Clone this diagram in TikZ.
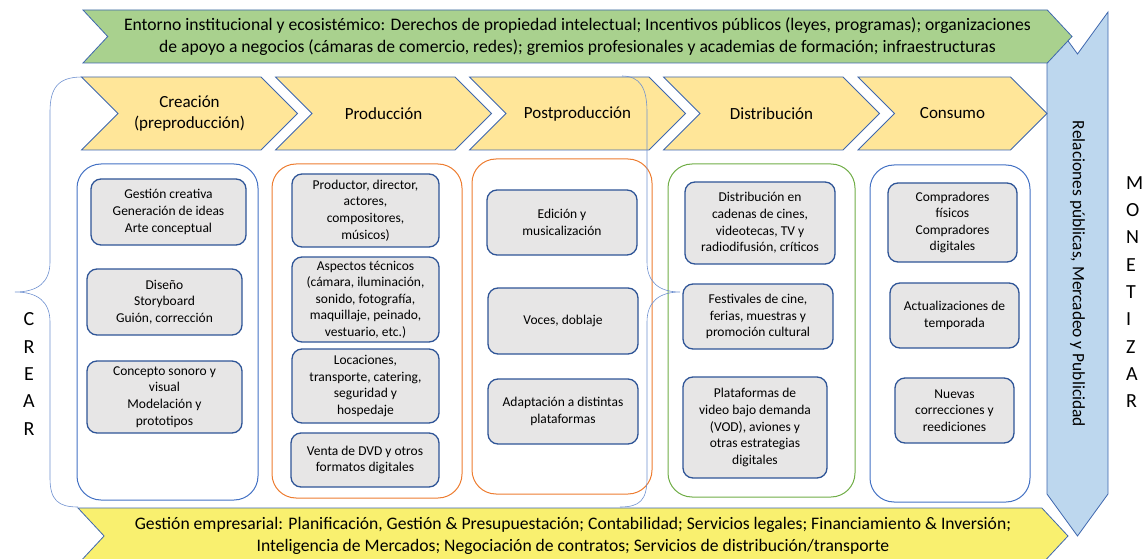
\documentclass[tikz,border=0pt]{standalone}
\usepackage{fontspec}
\setmainfont{Carlito}
\usetikzlibrary{shapes.symbols}

\definecolor{edgeblue}{HTML}{3E67AE}
\definecolor{itemblue}{HTML}{2F5597}
\definecolor{itemgray}{HTML}{E7E6E6}
\definecolor{entornogreen}{HTML}{A9D18E}
\definecolor{stagegold}{HTML}{FFE699}
\definecolor{gestionyellow}{HTML}{F9F06F}
\definecolor{relblue}{HTML}{BDD7EE}
\definecolor{colblue}{HTML}{4472C4}
\definecolor{colorange}{HTML}{ED7D31}
\definecolor{colgreen}{HTML}{70AD47}
\definecolor{braceblue}{HTML}{6F91D0}

\begin{document}
\begin{tikzpicture}[x=1pt, y=-1pt]
	\tikzstyle{every node} = [inner sep=0pt, outer sep=0pt, text=black]
	\tikzstyle{band} = [signal, signal from=west, signal to=east, draw=edgeblue, line width=0.8pt, align=center, font=\fontsize{17.6}{22}\selectfont]
	\tikzstyle{stage} = [signal, signal from=west, signal to=east, signal pointer angle=90, draw=edgeblue, fill=stagegold, line width=0.8pt, minimum height=73pt, minimum width=216pt, align=center, font=\fontsize{17}{21.5}\selectfont]
	\tikzstyle{column} = [rectangle, rounded corners=24pt, line width=1pt]
	\tikzstyle{item} = [rectangle, rounded corners=10pt, draw=itemblue, fill=itemgray, line width=1.3pt, align=center, font=\fontsize{13.5}{16.6}\selectfont]
	\tikzstyle{letters} = [align=center, font=\fontsize{20}{27.3}\selectfont]
	\tikzstyle{brace} = [draw=braceblue, line width=0.6pt]
	\useasboundingbox (0,0) rectangle (1144,559);

	% bands round the chain
	\node [band, fill=relblue, rotate=-90, signal pointer angle=72, minimum width=524pt, minimum height=61pt, font=\fontsize{17.4}{21}\selectfont] (Relaciones) at (1077.5, 274) {Relaciones públicas, Mercadeo y Publicidad};
	\node [band, fill=entornogreen, signal pointer angle=94, minimum width=989pt, minimum height=53pt] (Entorno) at (577.5, 36.5) {Entorno institucional y ecosistémico: Derechos de propiedad intelectual; Incentivos públicos (leyes, programas); organizaciones\\de apoyo a negocios (cámaras de comercio, redes); gremios profesionales y academias de formación; infraestructuras};
	\node [band, fill=gestionyellow, signal pointer angle=94, minimum width=990pt, minimum height=56pt] (Gestion) at (573, 536) {Gestión empresarial: Planificación, Gestión \& Presupuestación; Contabilidad; Servicios legales; Financiamiento \& Inversión;\\Inteligencia de Mercados; Negociación de contratos; Servicios de distribución/transporte};

	% stages
	\node [stage] (Creacion) at (189.5, 113.5) {Creación\\(preproducción)};
	\node [stage] (Produccion) at (383.5, 113.5) {Producción};
	\node [stage] (Postproduccion) at (577.5, 113.5) {Postproducción};
	\node [stage] (Distribucion) at (771.5, 113.5) {Distribución};
	\node [stage, minimum width=189pt] (Consumo) at (952.5, 113.5) {Consumo};

	% columns
	\node [column, draw=colblue, minimum width=181pt, minimum height=336pt] (colCreacion) at (167.5, 332) {};
	\node [column, draw=colorange, minimum width=190pt, minimum height=334pt] (colProduccion) at (367, 331) {};
	\node [column, draw=colorange, minimum width=180pt, minimum height=335pt] (colPostproduccion) at (562, 326.5) {};
	\node [column, draw=colgreen, minimum width=187pt, minimum height=333pt] (colDistribucion) at (761.5, 330.5) {};
	\node [column, draw=colblue, minimum width=160pt, minimum height=337pt] (colConsumo) at (950, 333.5) {};

	% items
	\node [item, minimum width=155pt, minimum height=66pt] (gestionCreativa) at (168.5, 212) {Gestión creativa\\Generación de ideas\\Arte conceptual};
	\node [item, minimum width=155pt, minimum height=66pt] (diseno) at (164.5, 302) {Diseño\\Storyboard\\Guión, corrección};
	\node [item, minimum width=155pt, minimum height=72pt] (concepto) at (164.5, 397) {Concepto sonoro y\\visual\\Modelación y\\prototipos};
	\node [item, minimum width=147pt, minimum height=73pt] (productor) at (365.5, 210.5) {Productor, director,\\actores,\\compositores,\\músicos)};
	\node [item, minimum width=147pt, minimum height=85pt] (aspectos) at (365.5, 299.5) {Aspectos técnicos\\(cámara, iluminación,\\sonido, fotografía,\\maquillaje, peinado,\\vestuario, etc.)};
	\node [item, minimum width=147pt, minimum height=74pt] (locaciones) at (365.5, 386) {Locaciones,\\transporte, catering,\\seguridad y\\hospedaje};
	\node [item, minimum width=148pt, minimum height=54pt] (ventaDVD) at (365, 460) {Venta de DVD y otros\\formatos digitales};
	\node [item, minimum width=150pt, minimum height=65pt] (edicion) at (562, 222.5) {Edición y\\musicalización};
	\node [item, minimum width=150pt, minimum height=66pt] (voces) at (563, 321) {Voces, doblaje};
	\node [item, minimum width=150pt, minimum height=65pt] (adaptacion) at (563, 411.5) {Adaptación a distintas\\plataformas};
	\node [item, minimum width=150pt, minimum height=82pt] (cadenas) at (760, 223) {Distribución en\\cadenas de cines,\\videotecas, TV y\\radiodifusión, críticos};
	\node [item, minimum width=150pt, minimum height=65pt] (festivales) at (758, 316.5) {Festivales de cine,\\ferias, muestras y\\promoción cultural};
	\node [item, minimum width=144pt, minimum height=101pt] (plataformas) at (755, 427.5) {Plataformas de\\video bajo demanda\\(VOD), aviones y\\otras estrategias\\digitales};
	\node [item, minimum width=129pt, minimum height=79pt] (compradores) at (952.5, 222.5) {Compradores\\físicos\\Compradores\\digitales};
	\node [item, minimum width=129pt, minimum height=65pt] (actualizaciones) at (954.5, 315.5) {Actualizaciones de\\temporada};
	\node [item, minimum width=119pt, minimum height=65pt] (nuevas) at (954.5, 410.5) {Nuevas\\correcciones y\\reediciones};

	% braces and side labels
	\draw [brace] (82, 77) .. controls (58, 77) and (50, 88) .. (50, 112) -- (50, 262) .. controls (50, 282) and (38, 292) .. (15, 292) .. controls (38, 292) and (50, 302) .. (50, 322) -- (50, 478) .. controls (50, 500) and (58, 507) .. (78, 507);
	\draw [brace] (622, 76) .. controls (640, 76) and (647, 88) .. (647, 112) -- (647, 262) .. controls (647, 282) and (659, 292) .. (680, 292) .. controls (659, 292) and (647, 302) .. (647, 322) -- (647, 478) .. controls (647, 500) and (640, 507) .. (620, 507);
	\node [letters] (crear) at (29, 374) {C\\R\\E\\A\\R};
	\node [letters, align=left, anchor=west] (monetizar) at (1126, 292) {M\\O\\N\\E\\T\\I\\Z\\A\\R};
\end{tikzpicture}
\end{document}
